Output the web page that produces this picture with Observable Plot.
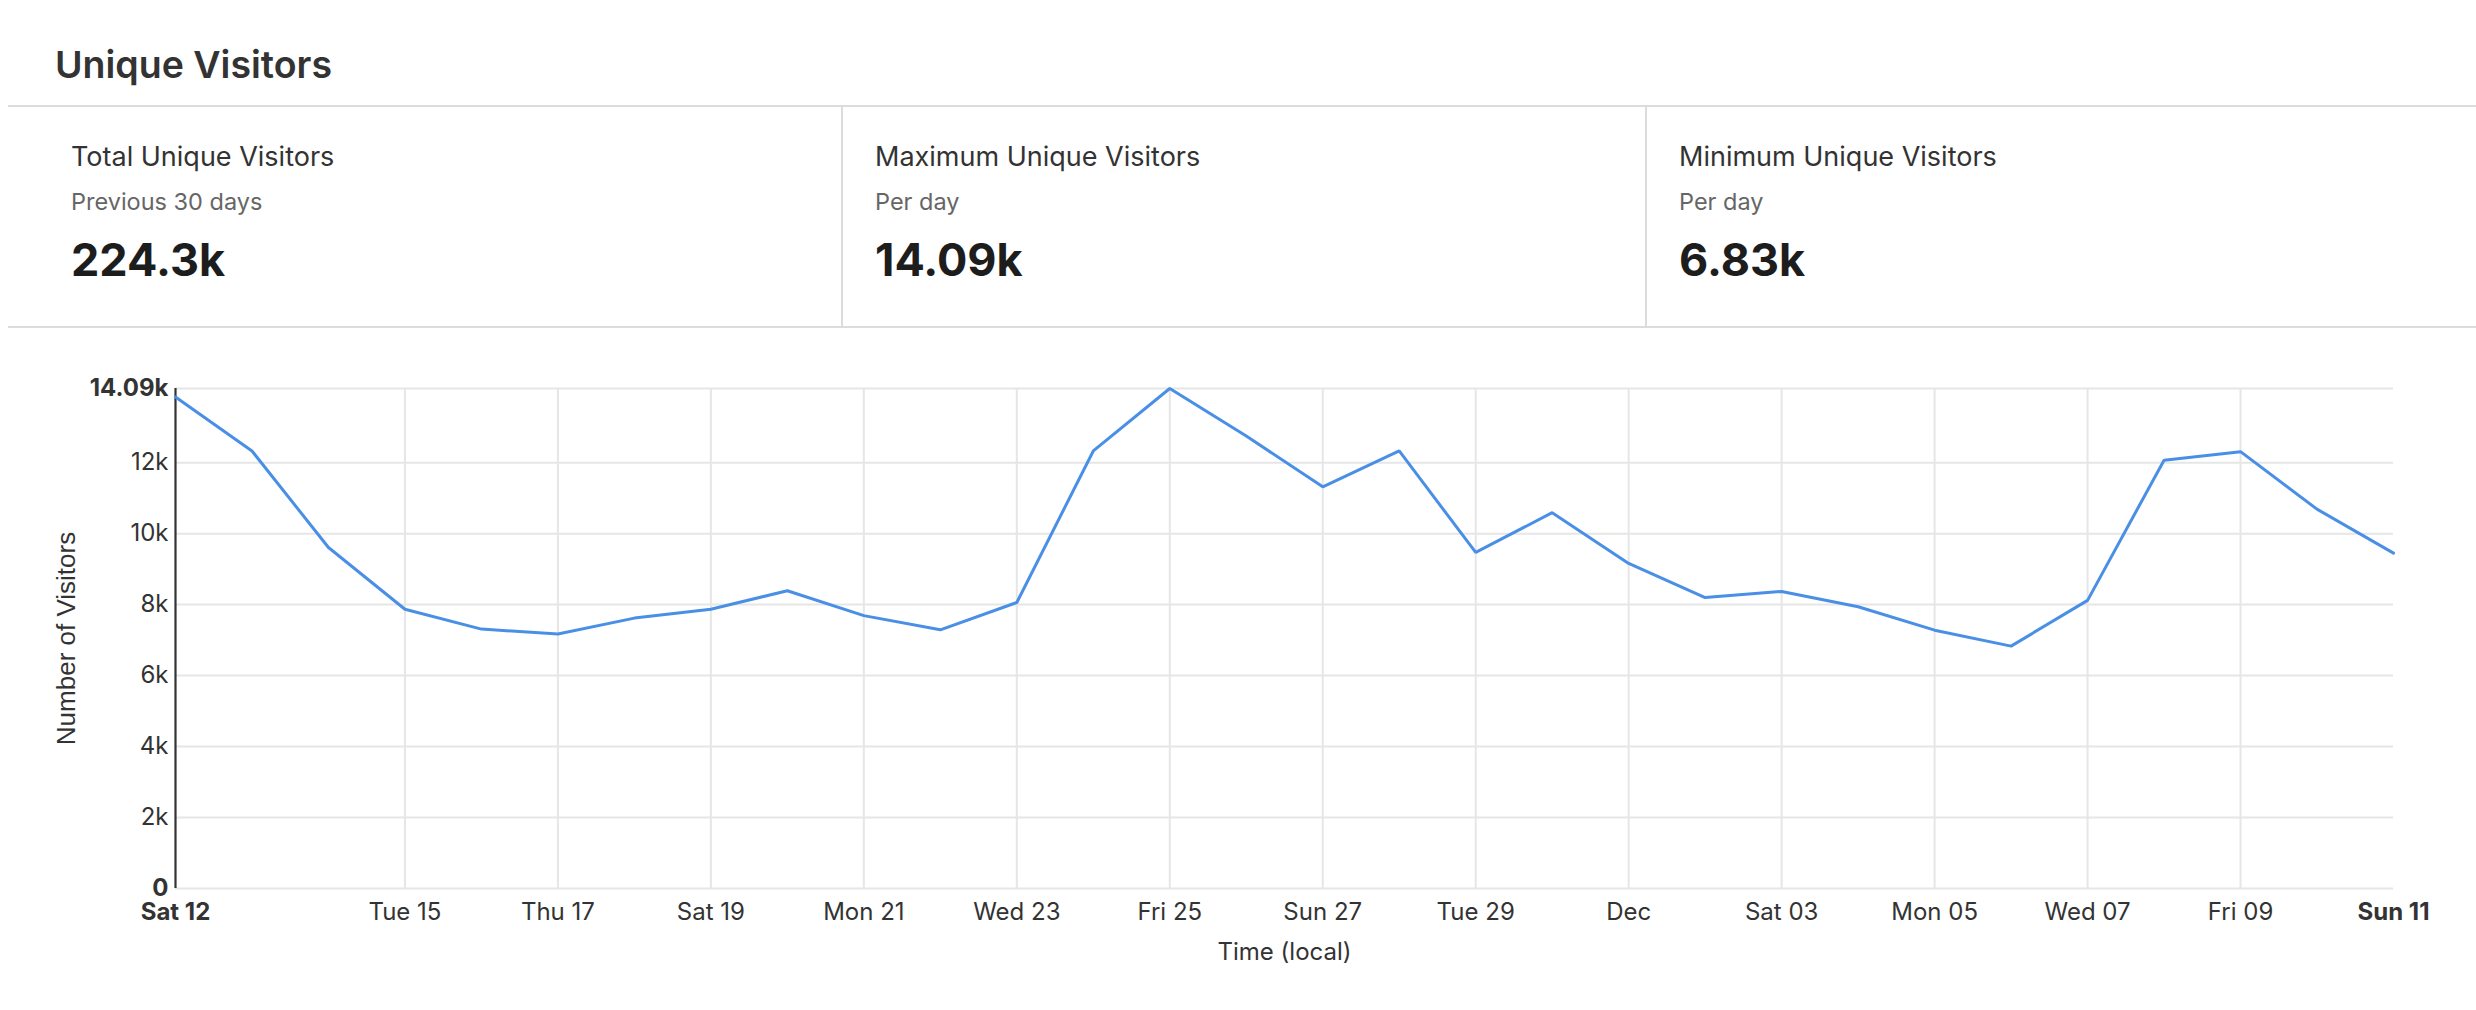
<!DOCTYPE html>
<html>
<head>
<meta charset="utf-8">
<script src="https://cdn.jsdelivr.net/npm/d3@7"></script>
<script src="https://cdn.jsdelivr.net/npm/@observablehq/plot@0.6"></script>
<style>
html, body { margin: 0; padding: 0; background: #fff; overflow: hidden; width: 2476px; height: 1010px; }
#root { position: relative; width: 2476px; height: 1010px; font-family: Inter, "Noto Sans", sans-serif; }
.t { position: absolute; line-height: 1; white-space: nowrap; }
.hl { position: absolute; height: 2px; background: #dcdcdc; }
.vl { position: absolute; width: 2px; background: #dcdcdc; }
#chart { position: absolute; left: 0; top: 330px; }
</style>
</head>
<body>
<div id="root">
  <div class="t" style="left:55px;top:46px;font-size:37.5px;font-weight:600;color:#333;">Unique Visitors</div>
  <div class="hl" style="left:8px;top:105px;width:2468px;"></div>
  <div class="hl" style="left:8px;top:326px;width:2468px;"></div>
  <div class="vl" style="left:841px;top:106px;height:221px;"></div>
  <div class="vl" style="left:1645px;top:106px;height:221px;"></div>
  <div id="stats"></div>
  <div id="chart"></div>
</div>
<script>
// ---- Data ----
const statTitles = ["Total Unique Visitors", "Maximum Unique Visitors", "Minimum Unique Visitors"];
const statSubtitles = ["Previous 30 days", "Per day", "Per day"];
const statValues = ["224.3k", "14.09k", "6.83k"];

const days = [
  "2022-11-12", "2022-11-13", "2022-11-14", "2022-11-15", "2022-11-16", "2022-11-17",
  "2022-11-18", "2022-11-19", "2022-11-20", "2022-11-21", "2022-11-22", "2022-11-23",
  "2022-11-24", "2022-11-25", "2022-11-26", "2022-11-27", "2022-11-28", "2022-11-29",
  "2022-11-30", "2022-12-01", "2022-12-02", "2022-12-03", "2022-12-04", "2022-12-05",
  "2022-12-06", "2022-12-07", "2022-12-08", "2022-12-09", "2022-12-10", "2022-12-11"
];
const visitors = [
  13850, 12330, 9610, 7870, 7310, 7170,
  7620, 7870, 8390, 7690, 7290, 8060,
  12330, 14090, 12750, 11320, 12330, 9470,
  10590, 9160, 8200, 8370, 7940, 7280,
  6830, 8120, 12070, 12310, 10690, 9450
];

const xTickDays = ["2022-11-15", "2022-11-17", "2022-11-19", "2022-11-21", "2022-11-23", "2022-11-25",
  "2022-11-27", "2022-11-29", "2022-12-01", "2022-12-03", "2022-12-05", "2022-12-07", "2022-12-09"];
const xTickLabels = ["Tue 15", "Thu 17", "Sat 19", "Mon 21", "Wed 23", "Fri 25",
  "Sun 27", "Tue 29", "Dec", "Sat 03", "Mon 05", "Wed 07", "Fri 09"];
const xEndDays = ["2022-11-12", "2022-12-11"];
const xEndLabels = ["Sat 12", "Sun 11"];

const yTicks = [2000, 4000, 6000, 8000, 10000, 12000];
const yTickLabels = ["2k", "4k", "6k", "8k", "10k", "12k"];
const yEndTicks = [0, 14090];
const yEndLabels = ["0", "14.09k"];

const xTitle = "Time (local)";
const yTitle = "Number of Visitors";

// ---- Header stats ----
const statLefts = [71, 875, 1679];
const statsEl = document.getElementById("stats");
statTitles.forEach((title, i) => {
  const l = statLefts[i];
  statsEl.insertAdjacentHTML("beforeend",
    `<div class="t" style="left:${l}px;top:143px;font-size:27px;color:#333;">${title}</div>` +
    `<div class="t" style="left:${l}px;top:190px;font-size:23.5px;color:#666;">${statSubtitles[i]}</div>` +
    `<div class="t" style="left:${l}px;top:237px;font-size:45px;font-weight:700;color:#1d1d1d;">${statValues[i]}</div>`);
});

// ---- Chart ----
const parse = d3.utcParse("%Y-%m-%d");
const rows = days.map((d, i) => ({date: parse(d), visitors: visitors[i]}));
const xTicks = xTickDays.map((d, i) => ({date: parse(d), label: xTickLabels[i]}));
const xEnds = xEndDays.map((d, i) => ({date: parse(d), label: xEndLabels[i]}));
const yT = yTicks.map((v, i) => ({v, label: yTickLabels[i]}));
const yE = yEndTicks.map((v, i) => ({v, label: yEndLabels[i]}));

const grid = "#e6e6e6";
const chart = Plot.plot({
  width: 2476,
  height: 680,
  marginTop: 58,
  marginBottom: 122,
  marginLeft: 175,
  marginRight: 83,
  style: {fontFamily: "Inter, 'Noto Sans', sans-serif", fontSize: "24px", color: "#333", background: "transparent", overflow: "visible"},
  x: {type: "utc", domain: [parse(days[0]), parse(days[days.length - 1])], axis: null},
  y: {domain: [0, 14090], axis: null},
  marks: [
    Plot.ruleY(yT.concat(yE), {y: "v", stroke: grid, strokeWidth: 2}),
    Plot.ruleX(xTicks, {x: "date", stroke: grid, strokeWidth: 2}),
    Plot.ruleX([xEnds[0]], {x: "date", stroke: "#333", strokeWidth: 2.2}),
    Plot.line(rows, {x: "date", y: "visitors", stroke: "#4a8fe6", strokeWidth: 3, strokeLinejoin: "miter"}),
    Plot.text(yT, {y: "v", text: "label", frameAnchor: "left", dx: -7, textAnchor: "end", lineAnchor: "middle", fill: "#333"}),
    Plot.text(yE, {y: "v", text: "label", frameAnchor: "left", dx: -7, textAnchor: "end", lineAnchor: "middle", fill: "#333", fontWeight: "bold"}),
    Plot.text(xTicks, {x: "date", text: "label", frameAnchor: "bottom", dy: 14, lineAnchor: "top", fill: "#333"}),
    Plot.text(xEnds, {x: "date", text: "label", frameAnchor: "bottom", dy: 14, lineAnchor: "top", fill: "#333", fontWeight: "bold"}),
    Plot.text([xTitle], {text: d => d, frameAnchor: "bottom", dy: 64, lineAnchor: "middle", fill: "#333", fontSize: 24}),
    Plot.text([yTitle], {text: d => d, frameAnchor: "left", dx: -109, rotate: -90, textAnchor: "middle", lineAnchor: "middle", fill: "#333", fontSize: 26, fontFamily: "'Liberation Sans', Arial, sans-serif"})
  ]
});
document.getElementById("chart").appendChild(chart);
</script>
</body>
</html>
